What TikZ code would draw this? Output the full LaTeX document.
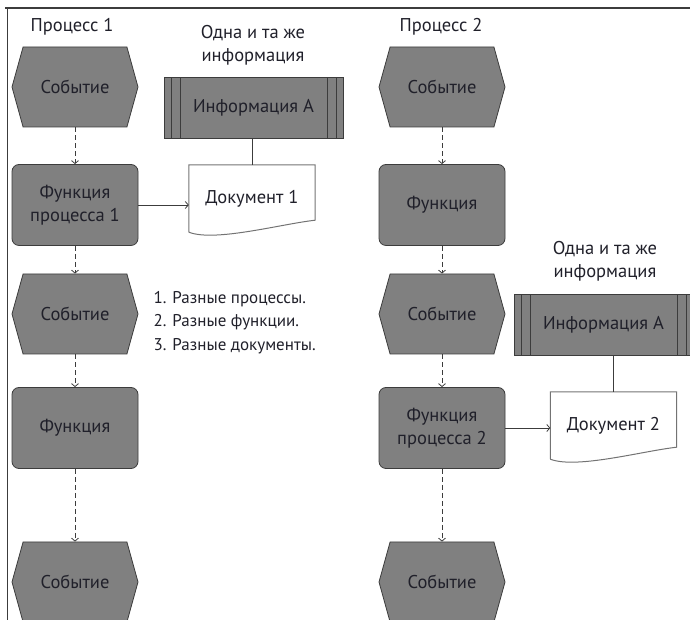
\documentclass[tikz,border=0pt]{standalone}
\usepackage{fontspec}
\setmainfont{PT Sans}
\usetikzlibrary{shapes.symbols,arrows.meta}

\definecolor{boxfill}{RGB}{128,128,128}
\definecolor{boxline}{RGB}{60,60,60}
\definecolor{docline}{RGB}{115,115,115}
\definecolor{txt}{RGB}{32,32,42}

\begin{document}
\begin{tikzpicture}[x=1pt,y=1pt]

\useasboundingbox (0,0) rectangle (690,620);

\tikzstyle{every node}=[font=\fontsize{18.5}{23}\selectfont,text=txt]
\tikzstyle{event}=[draw=boxline,fill=boxfill,line width=0.8pt,signal,signal to=west and east,
  signal pointer angle=149,minimum width=126pt,minimum height=80pt,inner sep=0pt]
\tikzstyle{func}=[draw=boxline,fill=boxfill,line width=0.8pt,rounded corners=7pt,
  minimum width=126pt,minimum height=81pt,align=center]
\tikzstyle{info}=[draw=boxline,fill=boxfill,line width=0.8pt,minimum width=179pt,minimum height=61pt,
  path picture={\foreach \d in {7,16} {
    \draw[boxline,line width=0.8pt] ([xshift=\d pt]path picture bounding box.south west) -- ([xshift=\d pt]path picture bounding box.north west);
    \draw[boxline,line width=0.8pt] ([xshift=-\d pt]path picture bounding box.south east) -- ([xshift=-\d pt]path picture bounding box.north east);}}]
\tikzstyle{doc}=[minimum width=126pt,minimum height=68pt]
\tikzstyle{flow}=[draw=boxline,line width=0.8pt,dashed,dash pattern=on 5pt off 3pt,-{Straight Barb[length=3pt,width=7pt]}]
\tikzstyle{link}=[draw=boxline,line width=0.8pt,-{Straight Barb[length=3pt,width=7pt]}]

% Frame of the page
\draw[boxline,line width=1.5pt] (5,612) -- (690,612);
\draw[boxline,line width=1pt] (7,612) -- (7,0);

% Headers
\node (p1) at (72,593) {Процесс 1};
\node (p2) at (441,593) {Процесс 2};

% Process 1
\node[event] (e1) at (75,533) {Событие};
\node[func] (f1) at (75,415) {Функция\\процесса 1};
\node[event] (e2) at (75,306) {Событие};
\node[func] (f2) at (75,192) {Функция};
\node[event] (e3) at (75,38) {Событие};

% Process 2
\node[event] (e4) at (442,533) {Событие};
\node[func] (f3) at (442,415) {Функция};
\node[event] (e5) at (442,306) {Событие};
\node[func] (f4) at (442,192) {Функция\\процесса 2};
\node[event] (e6) at (442,38) {Событие};

% Shared information and documents
\node[align=center] (t1) at (253,575) {Одна и та же\\информация};
\node[info] (i1) at (253.5,512.5) {Информация А};
\node[doc] (d1) at (252,421) {Документ 1};

\node[align=center] (t2) at (605,359) {Одна и та же\\информация};
\node[info] (i2) at (603.5,295) {Информация А};
\node[doc] (d2) at (613.5,194) {Документ 2};

\node[align=left,anchor=west,font=\fontsize{17}{23.5}\selectfont] (notes) at (150,297.5)
  {1. Разные процессы.\\2. Разные функции.\\3. Разные документы.};

% Document outlines with wavy bottom
\foreach \d in {d1,d2}
  \draw[docline,line width=1pt] ([yshift=1pt]\d.south west) -- (\d.north west) -- (\d.north east)
    -- ([yshift=13pt]\d.south east)
    .. controls ([shift={(-35,9)}]\d.south east) and ([shift={(26,-9)}]\d.south west) .. ([yshift=1pt]\d.south west);

% Control flow
\foreach \a/\b in {e1/f1,f1/e2,e2/f2,f2/e3,e4/f3,f3/e5,e5/f4,f4/e6}
  \draw[flow] (\a.south) -- (\b.north);

% Links to documents and information
\draw[link] (f1.east) -- (f1.east -| d1.west);
\draw[link] (f4.east) -- (f4.east -| d2.west);
\draw[boxline,line width=0.8pt] (d1.north) -- (d1.north |- i1.south);
\draw[boxline,line width=0.8pt] (d2.north) -- (d2.north |- i2.south);

\end{tikzpicture}
\end{document}
